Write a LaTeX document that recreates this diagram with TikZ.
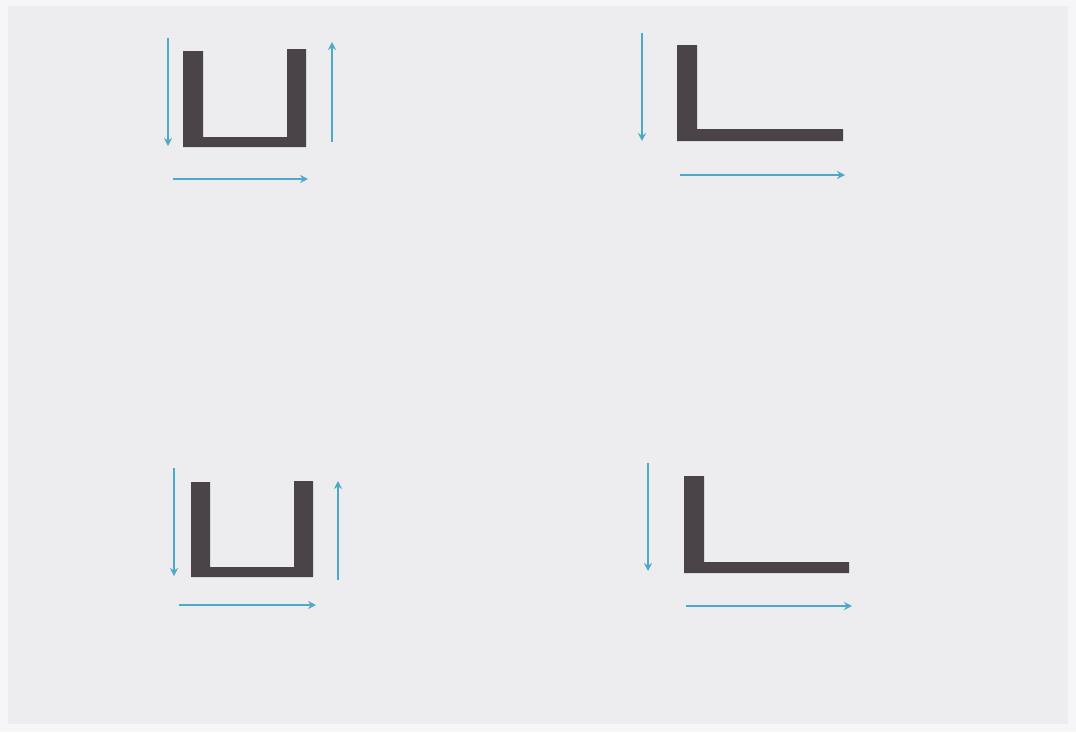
\documentclass[tikz,border=0pt]{standalone}
\usetikzlibrary{arrows.meta}
\definecolor{paper}{RGB}{237,237,239}
\definecolor{edge}{RGB}{246,246,248}
\definecolor{beam}{RGB}{74,67,71}
\definecolor{flow}{RGB}{78,168,200}
\tikzset{
  shapefill/.style={fill=beam,draw=none},
  flowarrow/.style={draw=flow,line width=1.8pt,-{Stealth[length=8pt,width=8pt]}}
}
\begin{document}
\begin{tikzpicture}[x=1pt,y=-1pt]
\fill[edge] (0,0) rectangle (1076,732);
\fill[paper] (8,6) rectangle (1068,724);
% ---------- top-left U ----------
\fill[shapefill] (183,51) -- (203,51) -- (203,137) -- (287,137) -- (287,49) -- (306,49) -- (306,147) -- (183,147) -- cycle;
\coordinate (a1s) at (168,38); \coordinate (a1e) at (168,146);
\coordinate (a2s) at (332,142); \coordinate (a2e) at (332,42);
\coordinate (a3s) at (173,179); \coordinate (a3e) at (308,179);
\draw[flowarrow] (a1s) -- (a1e);
\draw[flowarrow] (a2s) -- (a2e);
\draw[flowarrow] (a3s) -- (a3e);
% ---------- top-right L ----------
\fill[shapefill] (677,45) -- (697,45) -- (697,129) -- (843,129) -- (843,141) -- (677,141) -- cycle;
\coordinate (b1s) at (642,33); \coordinate (b1e) at (642,141);
\coordinate (b2s) at (680,175); \coordinate (b2e) at (845,175);
\draw[flowarrow] (b1s) -- (b1e);
\draw[flowarrow] (b2s) -- (b2e);
% ---------- bottom-left U ----------
\fill[shapefill] (191,482) -- (210,482) -- (210,567) -- (294,567) -- (294,481) -- (313,481) -- (313,577) -- (191,577) -- cycle;
\coordinate (c1s) at (174,468); \coordinate (c1e) at (174,576);
\coordinate (c2s) at (338,580); \coordinate (c2e) at (338,481);
\coordinate (c3s) at (179,605); \coordinate (c3e) at (316,605);
\draw[flowarrow] (c1s) -- (c1e);
\draw[flowarrow] (c2s) -- (c2e);
\draw[flowarrow] (c3s) -- (c3e);
% ---------- bottom-right L ----------
\fill[shapefill] (684,476) -- (704,476) -- (704,562) -- (849,562) -- (849,573) -- (684,573) -- cycle;
\coordinate (d1s) at (648,463); \coordinate (d1e) at (648,571);
\coordinate (d2s) at (686,606); \coordinate (d2e) at (852,606);
\draw[flowarrow] (d1s) -- (d1e);
\draw[flowarrow] (d2s) -- (d2e);
\end{tikzpicture}
\end{document}
